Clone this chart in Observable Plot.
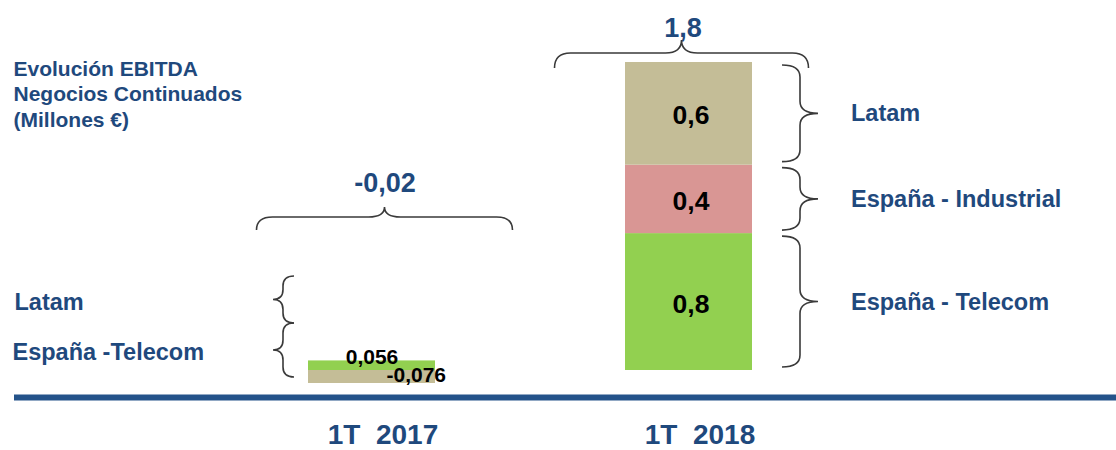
<!DOCTYPE html>
<html><head><meta charset="utf-8">
<script src="https://cdn.jsdelivr.net/npm/d3@7"></script>
<script src="https://cdn.jsdelivr.net/npm/@observablehq/plot@0.6"></script>
<style>body{margin:0;background:#fff;}</style>
</head><body><div id="chart"></div>
<script>
// ---- data ----
const periods = ["1T 2017", "1T 2018"];
const periodLabels = ["1T\u00a0\u00a02017", "1T\u00a0\u00a02018"];
const segments = ["España - Telecom", "España - Industrial", "Latam"];
const segmentColors = ["#92d050", "#d99694", "#c4bd97"];
const values2017 = [0.056, null, -0.076];
const values2018 = [0.8, 0.4, 0.6];
const totals = [-0.02, 1.8];
const leftLabels2017 = ["Latam", "España -Telecom"];
const title = ["Evolución EBITDA", "Negocios Continuados", "(Millones €)"];

// ---- build rows ----
const allValues = [values2017, values2018];
const rows = [];
periods.forEach((p, i) => segments.forEach((s, j) => {
  const v = allValues[i][j];
  if (v != null) rows.push({period: p, segment: s, value: v});
}));
const rows2017 = rows.filter(d => d.period === periods[0]);
const rows2018 = rows.filter(d => d.period === periods[1]);
const fmt = v => String(v).replace(".", ",");
const BLUE = "#1f497d";
const FONT = "Liberation Sans, Arial, Helvetica, sans-serif";

const chart = Plot.plot({
  width: 1116, height: 450,
  marginTop: 62, marginBottom: 80, marginLeft: 14, marginRight: 0,
  style: {fontFamily: FONT, background: "#fff"},
  x: {type: "band", domain: periods, range: [307, 752], paddingInner: 0.6, paddingOuter: 0, axis: null},
  y: {domain: [0, 1.8], axis: null},
  color: {domain: segments, range: segmentColors},
  marks: [
    Plot.ruleY([0], {stroke: "#24538a", strokeWidth: 6, dy: 27}),
    Plot.barY(rows, {x: "period", y: "value", fill: "segment"}),
    // 2018 segment values
    Plot.text(rows2018, Plot.stackY({x: "period", y: "value", text: d => fmt(d.value),
      fontSize: 26.5, fontWeight: "bold", fill: "black", dx: 2, dy: 2})),
    // 2018 segment names on the right
    Plot.text(rows2018, Plot.stackY({x: "period", y: "value", text: "segment",
      fontSize: 23.5, fontWeight: "bold", fill: BLUE, textAnchor: "start", dx: 162})),
    // 2017 values
    Plot.text(rows2017.filter(d => d.value > 0), {x: "period", y: "value", text: d => fmt(d.value),
      fontSize: 21, fontWeight: "bold", fill: "black", dy: -4}),
    Plot.text(rows2017.filter(d => d.value < 0), {x: "period", y: "value", text: d => fmt(d.value),
      fontSize: 21, fontWeight: "bold", fill: "black", dy: -8, dx: 74, textAnchor: "end"}),
    // totals
    Plot.text([totals[1]], {x: () => periods[1], frameAnchor: "top", lineAnchor: "middle", text: d => fmt(d),
      fontSize: 27, fontWeight: "bold", fill: BLUE, dy: -34, dx: -6}),
    Plot.text([totals[0]], {x: () => periods[0], frameAnchor: "top", lineAnchor: "middle", text: d => fmt(d),
      fontSize: 27, fontWeight: "bold", fill: BLUE, dy: 121, dx: 13}),
    // period labels
    Plot.text(periods, {x: d => d, text: (d, i) => periodLabels[i], frameAnchor: "bottom", lineAnchor: "middle",
      fontSize: 28, fontWeight: "bold", fill: BLUE, dy: 65, dx: 11}),
    // left labels for 2017
    Plot.text([leftLabels2017[0]], {frameAnchor: "bottom-left", lineAnchor: "middle", text: d => d, textAnchor: "start",
      fontSize: 23.5, fontWeight: "bold", fill: BLUE, dy: -68}),
    Plot.text([leftLabels2017[1]], {frameAnchor: "bottom-left", lineAnchor: "middle", text: d => d, textAnchor: "start",
      fontSize: 23.5, fontWeight: "bold", fill: BLUE, dy: -18, dx: -2}),
    // title
    Plot.text([title.join("\n")], {frameAnchor: "top-left", text: d => d, textAnchor: "start",
      lineAnchor: "middle", lineHeight: 1.22, fontSize: 21, fontWeight: "bold", fill: BLUE, dy: 30.5, dx: -1})
  ]
});
document.getElementById("chart").appendChild(chart);

// ---- curly braces, positioned from the plot's scales ----
const xs = chart.scale("x"), ys = chart.scale("y");
const bw = xs.bandwidth;
const xStart = p => xs.apply(p);
const xCenter = p => xs.apply(p) + bw / 2;

function brace(ax, ay, bx, by, nx, ny, h, w, r) {
  const L = Math.hypot(bx - ax, by - ay);
  const tx = (bx - ax) / L, ty = (by - ay) / L;
  r = Math.min(r, L / 4.5);
  const mx = (ax + bx) / 2, my = (ay + by) / 2;
  const P = (x, y, s, k) => `${x + tx * s + nx * k},${y + ty * s + ny * k}`;
  return `M${ax},${ay}` +
    ` Q${P(ax, ay, 0, h)} ${P(ax, ay, r, h)}` +
    ` L${P(mx, my, -r, h)}` +
    ` Q${P(mx, my, 0, h)} ${P(mx, my, 0, w)}` +
    ` Q${P(mx, my, 0, h)} ${P(mx, my, r, h)}` +
    ` L${P(bx, by, -r, h)}` +
    ` Q${P(bx, by, 0, h)} ${bx},${by}`;
}
const g = d3.select(chart).append("g")
  .attr("fill", "none").attr("stroke", "#3a3a3a").attr("stroke-width", 1.6);

// top brace 2018 (total)
{
  const c = xCenter(periods[1]) - 7, yb = ys.apply(1.8) + 6;
  g.append("path").attr("d", brace(c - 127, yb, c + 127, yb, 0, -1, 15, 28, 16));
}
// top brace 2017 (total)
{
  const c = xCenter(periods[0]) + 13, yb = ys.apply(0) - 140;
  g.append("path").attr("d", brace(c - 128, yb, c + 128, yb, 0, -1, 13, 23, 16));
}
// right braces 2018 per segment
{
  const xb = xStart(periods[1]) + bw + 30;
  let acc = 0;
  values2018.forEach(v => {
    const y1 = ys.apply(acc) - 3, y2 = ys.apply(acc + v) + 3;
    acc += v;
    g.append("path").attr("d", brace(xb, y1, xb, y2, 1, 0, 18, 36, 12));
  });
}
// left braces 2017
{
  const xb = xStart(periods[0]) - 14, y0 = ys.apply(0);
  g.append("path").attr("d", brace(xb, y0 + 7, xb, y0 - 47, -1, 0, 11, 21, 10));
  g.append("path").attr("d", brace(xb, y0 - 47, xb, y0 - 94, -1, 0, 11, 21, 10));
}
</script>
</body></html>
